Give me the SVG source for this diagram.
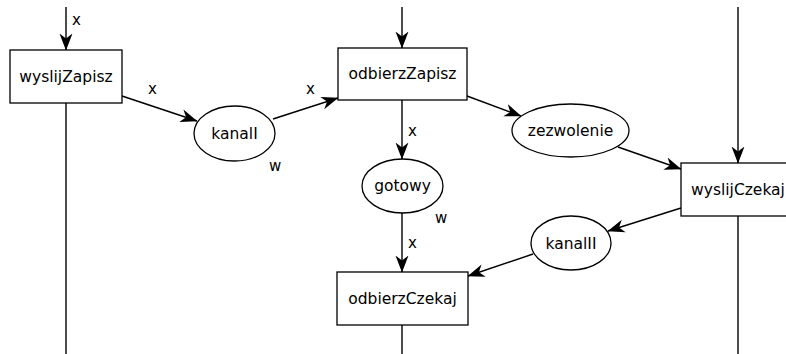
<svg xmlns="http://www.w3.org/2000/svg" width="786" height="354" viewBox="0 0 786 354">
  <style>
    .node rect, .node ellipse { fill: #ffffff; stroke: #000000; stroke-width: 1.3; }
    .node text { font-family: "DejaVu Sans", Verdana, sans-serif; font-size: 15.5px; fill: #000000; text-anchor: middle; }
    .edges line { stroke: #000000; stroke-width: 1.4; fill: none; }
    .edges .arc { marker-end: url(#arrow); }
    .lbl { font-family: "DejaVu Sans", Verdana, sans-serif; font-size: 15px; fill: #000000; }
  </style>
  <defs>
    <marker id="arrow" viewBox="0 0 17 14" refX="16.5" refY="7" markerWidth="17" markerHeight="14" markerUnits="userSpaceOnUse" orient="auto">
      <path d="M0,0.5 L17,7 L0,13.5 L5,7 z" fill="#000000"/>
    </marker>
  </defs>
  <rect width="786" height="354" fill="#ffffff"/>

  <!-- connectors -->
  <g id="edges" class="edges">
    <line class="arc" x1="66" y1="7" x2="66" y2="50"/>
    <line x1="66" y1="103" x2="66" y2="354"/>
    <line class="arc" x1="402" y1="7" x2="402" y2="48"/>
    <line class="arc" x1="738" y1="7" x2="738" y2="163"/>
    <line x1="738" y1="216" x2="738" y2="354"/>
    <line x1="402" y1="325" x2="402" y2="354"/>
    <line class="arc" x1="122" y1="96" x2="197" y2="121"/>
    <line class="arc" x1="273" y1="119" x2="338" y2="98"/>
    <line class="arc" x1="402" y1="100" x2="402" y2="159"/>
    <line class="arc" x1="467" y1="96" x2="521" y2="116"/>
    <line class="arc" x1="618" y1="147" x2="681" y2="169"/>
    <line class="arc" x1="681" y1="208" x2="608" y2="231"/>
    <line class="arc" x1="533" y1="254" x2="468" y2="276"/>
    <line class="arc" x1="402" y1="213" x2="402" y2="272"/>
  </g>

  <!-- arc labels -->
  <g id="labels">
    <text class="lbl" x="72" y="25">x</text>
    <text class="lbl" x="148" y="94">x</text>
    <text class="lbl" x="306" y="94">x</text>
    <text class="lbl" x="269" y="171">w</text>
    <text class="lbl" x="408" y="136">x</text>
    <text class="lbl" x="435" y="223">w</text>
    <text class="lbl" x="408" y="248">x</text>
  </g>

  <!-- transitions -->
  <g id="wyslijZapisz" class="node">
    <rect x="10" y="50" width="112" height="53"/>
    <text x="66" y="82">wyslijZapisz</text>
  </g>
  <g id="odbierzZapisz" class="node">
    <rect x="338" y="48" width="129" height="52"/>
    <text x="402.5" y="79">odbierzZapisz</text>
  </g>
  <g id="wyslijCzekaj" class="node">
    <rect x="681" y="163" width="114" height="53"/>
    <text x="738" y="195">wyslijCzekaj</text>
  </g>
  <g id="odbierzCzekaj" class="node">
    <rect x="337" y="272" width="131" height="53"/>
    <text x="402.5" y="304">odbierzCzekaj</text>
  </g>

  <!-- places -->
  <g id="kanalI" class="node">
    <ellipse cx="234.5" cy="133.5" rx="40.5" ry="27.5"/>
    <text x="234.5" y="139">kanalI</text>
  </g>
  <g id="gotowy" class="node">
    <ellipse cx="402.5" cy="186" rx="40.5" ry="27"/>
    <text x="402.5" y="191">gotowy</text>
  </g>
  <g id="zezwolenie" class="node">
    <ellipse cx="570.5" cy="130.5" rx="58.5" ry="26.5"/>
    <text x="570.5" y="136">zezwolenie</text>
  </g>
  <g id="kanalII" class="node">
    <ellipse cx="571" cy="243" rx="40" ry="27"/>
    <text x="571" y="248.5">kanalII</text>
  </g>
</svg>
